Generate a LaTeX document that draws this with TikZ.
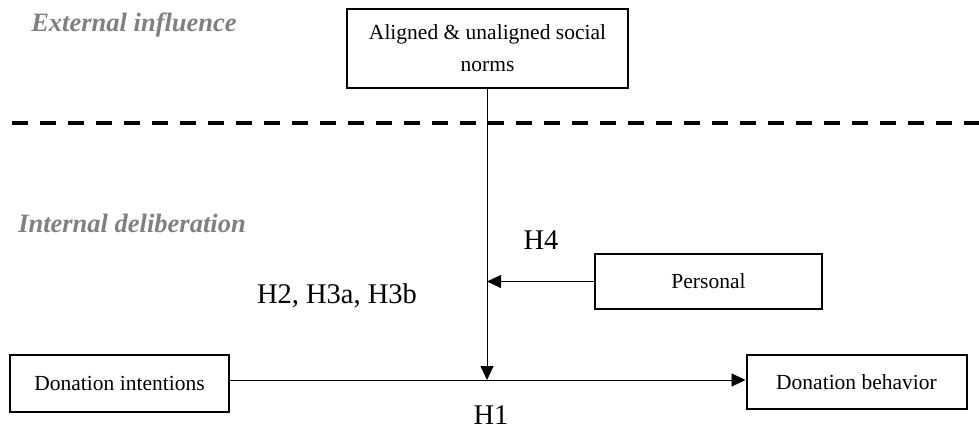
\documentclass[tikz,border=0pt]{standalone}
\usepackage{fontspec}
\setmainfont{Liberation Serif}
\usetikzlibrary{arrows.meta}
\definecolor{labgray}{HTML}{808080}
\tikzset{
  box/.style={draw, line width=2pt, align=center, font=\fontsize{21.5}{32}\selectfont, inner sep=0pt},
  conn/.style={line width=0.9pt, -{Triangle[length=14pt,width=13pt]}},
  hlab/.style={font=\fontsize{28.5}{32}\selectfont},
  sect/.style={font=\fontsize{26.5}{30}\selectfont\bfseries\itshape, text=labgray}
}
\begin{document}
\begin{tikzpicture}[x=1pt,y=-1pt]
\useasboundingbox (0,0) rectangle (979,431);
\node[box, minimum width=281pt, minimum height=79pt] (top) at (487.5,48.5) {Aligned \& unaligned social\\norms};
\node[box, minimum width=227pt, minimum height=55pt] (pers) at (708.5,281.5) {Personal};
\node[box, minimum width=219pt, minimum height=57pt] (di) at (119.5,383.5) {Donation intentions};
\node[box, minimum width=220pt, minimum height=54pt] (db) at (856.5,382) {Donation behavior};
\node[sect] (ext) at (134,25) {External influence};
\node[sect] (int) at (132,223) {Internal deliberation};
\node[hlab] (h4) at (541,240) {H4};
\node[hlab] (h2) at (337,296) {H2, H3a, H3b};
\node[hlab] (h1) at (491,415) {H1};
\coordinate (dl) at (12,123);
\coordinate (dr) at (979,123);
\coordinate (j) at (487,380);
\draw[line width=4pt, dash pattern=on 16pt off 12pt] (dl) -- (dr);
\draw[conn] (top.south -| j) -- (j);
\draw[conn] (pers.west) -- (pers.west -| j);
\draw[conn] (di.east |- j) -- (db.west |- j);
\end{tikzpicture}
\end{document}
